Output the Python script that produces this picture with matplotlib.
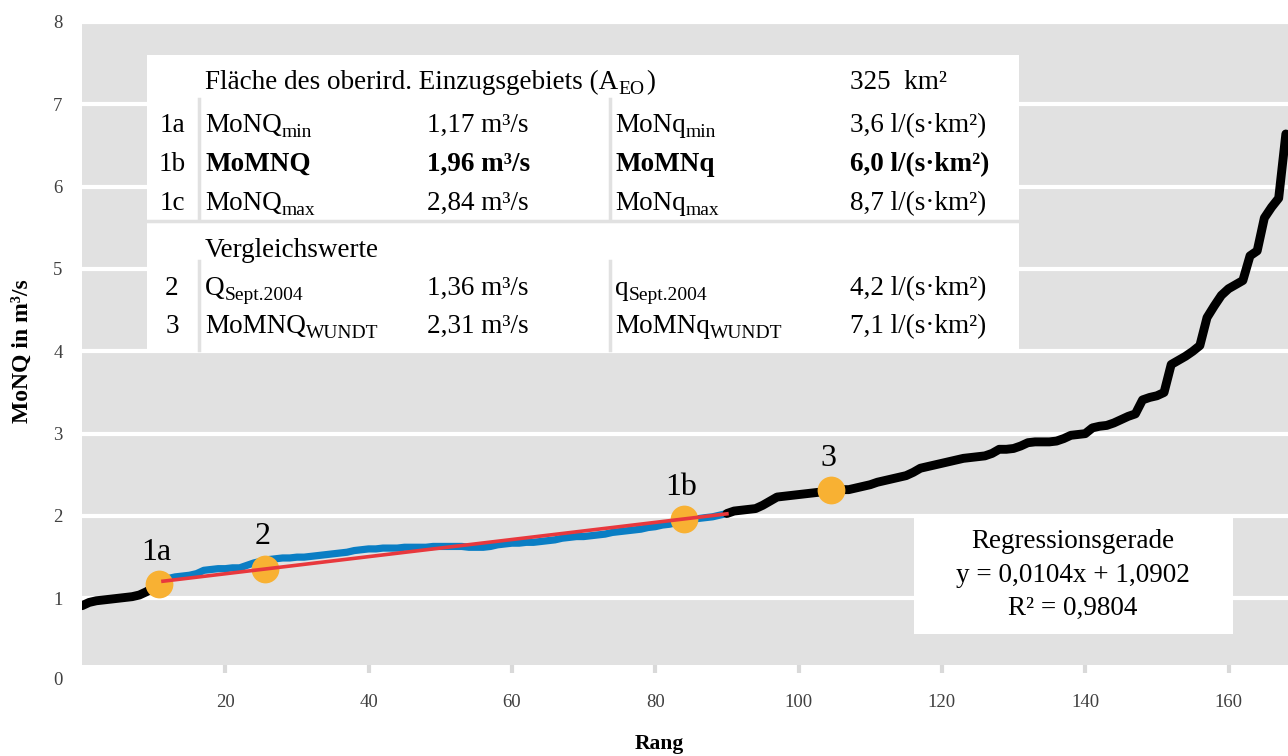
import numpy as np
import matplotlib
matplotlib.use('Agg')
import matplotlib.pyplot as plt
from matplotlib.patches import Rectangle

plt.rcParams['font.family'] = ['Liberation Serif', 'DejaVu Serif']

# MoNQ-Werte nach Rang sortiert
monq = [0.91, 0.95, 0.97, 0.98, 0.99, 1.00, 1.01, 1.02, 1.04, 1.08,
        1.13, 1.19, 1.24, 1.26, 1.27, 1.28, 1.30, 1.34, 1.35, 1.36,
        1.36, 1.37, 1.37, 1.40, 1.43, 1.45, 1.47, 1.48, 1.49, 1.49,
        1.50, 1.50, 1.51, 1.52, 1.53, 1.54, 1.55, 1.56, 1.58, 1.59,
        1.60, 1.60, 1.61, 1.61, 1.61, 1.62, 1.62, 1.62, 1.62, 1.63,
        1.63, 1.63, 1.63, 1.63, 1.62, 1.62, 1.62, 1.63, 1.65, 1.66,
        1.67, 1.67, 1.68, 1.68, 1.69, 1.70, 1.71, 1.73, 1.74, 1.75,
        1.75, 1.76, 1.77, 1.78, 1.80, 1.81, 1.82, 1.83, 1.84, 1.86,
        1.87, 1.89, 1.90, 1.92, 1.94, 1.95, 1.97, 1.98, 1.99, 2.01,
        2.03, 2.06, 2.07, 2.08, 2.09, 2.13, 2.18, 2.23, 2.24, 2.25,
        2.26, 2.27, 2.28, 2.29, 2.30, 2.31, 2.32, 2.32, 2.34, 2.36,
        2.38, 2.41, 2.43, 2.45, 2.47, 2.49, 2.53, 2.58, 2.60, 2.62,
        2.64, 2.66, 2.68, 2.70, 2.71, 2.72, 2.73, 2.76, 2.81, 2.81,
        2.82, 2.85, 2.89, 2.90, 2.90, 2.90, 2.91, 2.94, 2.98, 2.99,
        3.00, 3.07, 3.09, 3.10, 3.13, 3.17, 3.21, 3.24, 3.41, 3.44,
        3.46, 3.50, 3.84, 3.89, 3.94, 4.00, 4.07, 4.41, 4.55, 4.68,
        4.76, 4.81, 4.86, 5.16, 5.22, 5.62, 5.75, 5.86, 6.64]
rang = np.arange(len(monq))
monq = np.array(monq)

# Bereich der Regression
reg_start, reg_end = 11, 90
reg_a, reg_b = 0.0104, 1.0902
reg_r2 = 0.9804

# markierte Punkte
pkt_rang = [10.8, 25.6, 84.0, 104.5]
pkt_wert = [1.17, 1.36, 1.96, 2.31]
pkt_lab = ['1a', '2', '1b', '3']

# Tabelle (Name, Index)
tab_nr = ['1a', '1b', '1c', '2', '3']
tab_name = [('MoNQ', 'min'), ('MoMNQ', ''), ('MoNQ', 'max'),
            ('Q', 'Sept.2004'), ('MoMNQ', 'WUNDT')]
tab_Q = ['1,17 m³/s', '1,96 m³/s', '2,84 m³/s', '1,36 m³/s', '2,31 m³/s']
tab_qname = [('MoNq', 'min'), ('MoMNq', ''), ('MoNq', 'max'),
             ('q', 'Sept.2004'), ('MoMNq', 'WUNDT')]
tab_q = ['3,6 l/(s·km²)', '6,0 l/(s·km²)', '8,7 l/(s·km²)',
         '4,2 l/(s·km²)', '7,1 l/(s·km²)']
tab_bold = [False, True, False, False, False]

W, H = 1288, 756
fig = plt.figure(figsize=(W/100, H/100), dpi=100)
ax = fig.add_axes([82/W, 1-665/H, 1-82/W, (665-22)/H])
ax.set_facecolor('#e1e1e1')
for s in ax.spines.values():
    s.set_visible(False)
ax.set_xlim(0, 168.3)
ax.set_ylim(0.19, 8.0)
ax.set_yticks(range(1, 9))
ax.set_xticks(range(20, 161, 20))
ax.yaxis.grid(True, color='white', lw=3)
ax.set_axisbelow(True)
ax.tick_params(axis='y', length=0, pad=14, labelsize=13.5, labelcolor='#404040')
ax.tick_params(axis='x', length=6, width=3, color='#d9d9d9', pad=15,
               labelsize=13.5, labelcolor='#404040')
ax.text(-19/1206, 0, '0', transform=ax.get_yaxis_transform(), ha='right',
        va='center', fontsize=13.5, color='#404040', clip_on=False)

# Ganglinie
ax.plot(rang[reg_start:reg_end+1], monq[reg_start:reg_end+1], color='#0a7ec4',
        lw=5.2, solid_capstyle='round', solid_joinstyle='round', zorder=3)
ax.plot(rang[:reg_start+1], monq[:reg_start+1], color='black', lw=6.4,
        solid_capstyle='round', solid_joinstyle='round', zorder=3)
ax.plot(rang[reg_end:], monq[reg_end:], color='black', lw=6.4,
        solid_capstyle='round', solid_joinstyle='round', zorder=3)

ax.plot(pkt_rang, pkt_wert, 'o', color='#f8b133', ms=20, mec='none', zorder=4)
for r, v, t in zip(pkt_rang, pkt_wert, pkt_lab):
    ax.annotate(t, (r, v), xytext=(-2, 23), textcoords='offset points',
                ha='center', va='center', fontsize=23, zorder=6)

xr = np.array([11.3, 90.0])
ax.plot(xr, reg_a*xr + reg_b, color='#e8383d', lw=2.6, zorder=5)

fig.text(659/W, 1-744/H, 'Rang', fontsize=15.5, fontweight='bold',
         ha='center', va='center')
fig.text(22/W, 1-351/H, 'MoNQ in m³/s', fontsize=17, fontweight='bold',
         ha='center', va='center', rotation=90)


def fx(px):
    return px/W


def fy(py):
    return 1-py/H


tf = fig.transFigure
renderer = fig.canvas.get_renderer()
fs = 19.5


def text_sub(x, yc, main, sub='', suffix='', weight='normal'):
    # Text mit tiefgestelltem Index, yc = Zeilenmitte in Pixel
    base = yc + 9
    t = ax.text(fx(x), fy(base), main, transform=tf, fontsize=fs,
                va='baseline', fontweight=weight, zorder=9)
    if not sub:
        return
    x1 = t.get_window_extent(renderer).x1
    s = ax.text(x1/W, fy(base + 5), sub, transform=tf, fontsize=fs*0.72,
                va='baseline', fontweight=weight, zorder=9)
    if suffix:
        x2 = s.get_window_extent(renderer).x1
        ax.text(x2/W + 2/W, fy(base), suffix, transform=tf, fontsize=fs,
                va='baseline', fontweight=weight, zorder=9)


# Tabelle zeichnen
ax.add_patch(Rectangle((fx(147), fy(350)), fx(1019)-fx(147), fy(55)-fy(350),
                       transform=tf, facecolor='white', edgecolor='none', zorder=7))
ax.plot([fx(147), fx(1019)], [fy(221.5), fy(221.5)], transform=tf,
        color='#e1e1e1', lw=2.5, zorder=8)
for xl in [199, 610]:
    ax.plot([fx(xl), fx(xl)], [fy(99), fy(220)], transform=tf,
            color='#e1e1e1', lw=2.5, zorder=8)
    ax.plot([fx(xl), fx(xl)], [fy(261), fy(350)], transform=tf,
            color='#e1e1e1', lw=2.5, zorder=8)

text_sub(205, 80, 'Fläche des oberird. Einzugsgebiets (A', 'EO', ')')
text_sub(850, 80, '325  km²')
text_sub(205, 248, 'Vergleichswerte')
row_y = [123, 162, 201, 286, 324]
for i, yy in enumerate(row_y):
    w = 'bold' if tab_bold[i] else 'normal'
    ax.text(fx(172), fy(yy + 9), tab_nr[i], transform=tf, fontsize=fs,
            ha='center', va='baseline', zorder=9)
    text_sub(205, yy, tab_name[i][0], tab_name[i][1], weight=w)
    text_sub(427, yy, tab_Q[i], weight=w)
    text_sub(615, yy, tab_qname[i][0], tab_qname[i][1], weight=w)
    text_sub(850, yy, tab_q[i], weight=w)

# Regressionsbox
ax.add_patch(Rectangle((fx(914), fy(634)), fx(1233)-fx(914), fy(518)-fy(634),
                       transform=tf, facecolor='white', edgecolor='none', zorder=7))
reg_txt = ['Regressionsgerade',
           'y = ' + f'{reg_a:.4f}'.replace('.', ',') + 'x + '
           + f'{reg_b:.4f}'.replace('.', ','),
           'R² = ' + f'{reg_r2:.4f}'.replace('.', ',')]
for yy, t in zip([541, 575, 608], reg_txt):
    ax.text(fx(1073), fy(yy), t, transform=tf, fontsize=fs, ha='center',
            va='center', zorder=9)

fig.savefig('out.png', dpi=100)
